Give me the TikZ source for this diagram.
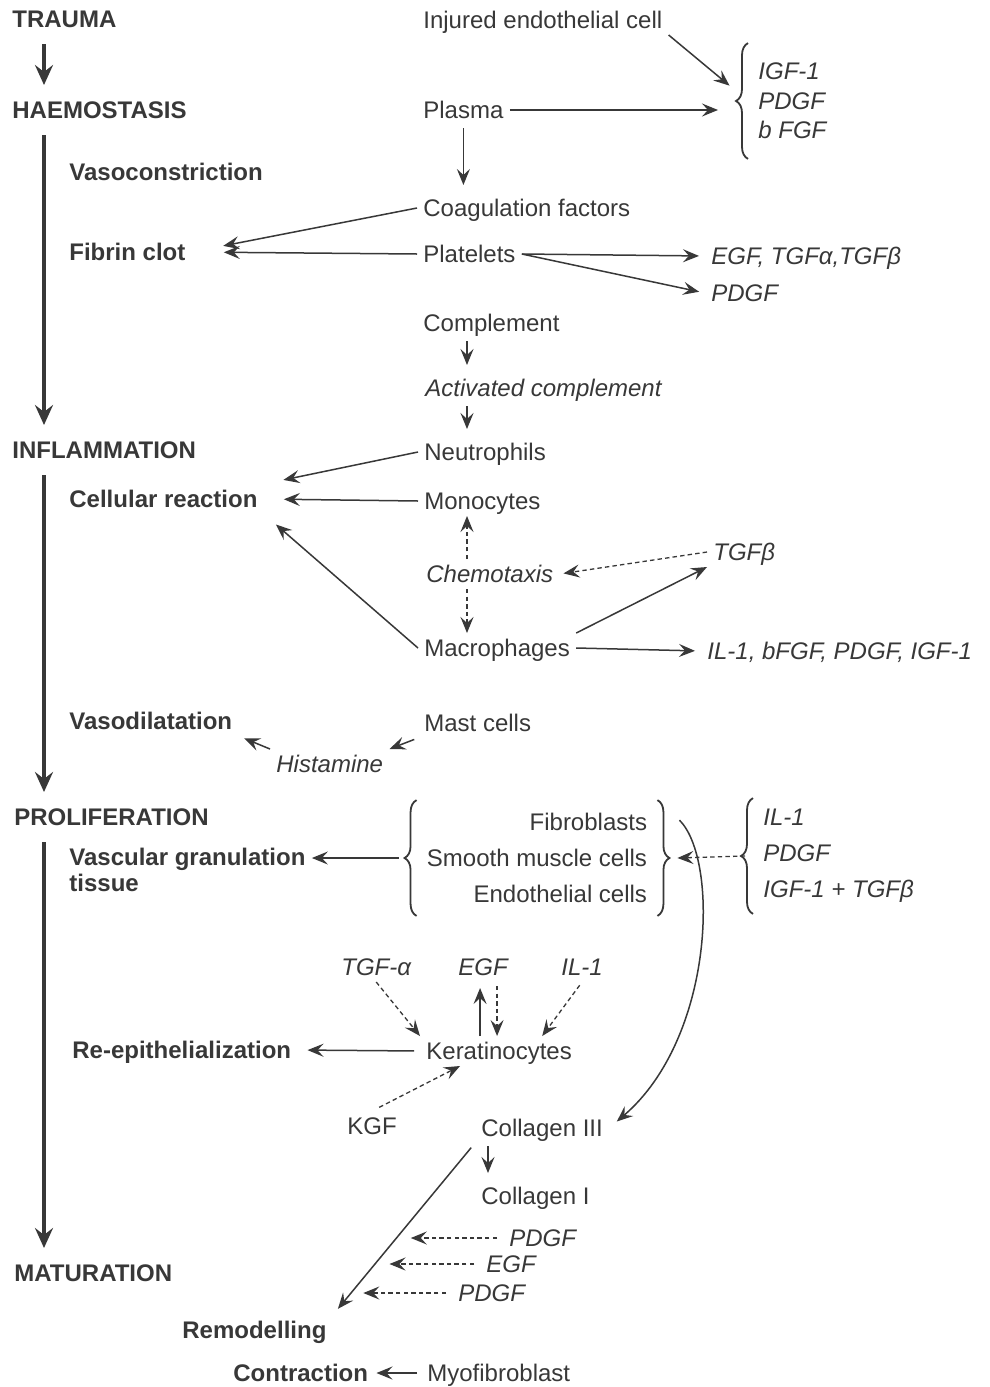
\documentclass[tikz,border=0pt]{standalone}
\usepackage{fontspec}
\setmainfont{Liberation Sans}
\usepackage{tikz}
\usetikzlibrary{arrows.meta, positioning, calc, decorations.pathreplacing}
\definecolor{ink}{gray}{0.22}

\begin{document}
\begin{tikzpicture}[x=0.5pt, y=-0.5pt, >={Stealth[length=8pt,width=6.5pt,inset=3pt]},
  every node/.style={text=ink, inner sep=3pt, font=\fontsize{12}{15}\selectfont},
  txt/.style={anchor=west, text height=8.6pt, text depth=0pt},
  stage/.style={txt, font=\fontsize{12}{15}\selectfont\bfseries},
  fac/.style={txt, font=\fontsize{12}{15}\selectfont\itshape},
  grp/.style={inner xsep=5pt, minimum height=57.5pt, font=\fontsize{12}{18}\selectfont},
  flow/.style={draw=ink, line width=0.75pt, ->},
  down/.style={flow, shorten <=1.5pt, shorten >=4pt},
  hint/.style={flow, line width=0.65pt, dash pattern=on 2.2pt off 1.6pt},
  phase/.style={draw=ink, line width=1.7pt, shorten <=5pt, shorten >=5pt,
    -{Stealth[length=10pt,width=9pt,inset=3.5pt]}},
  brc/.style={draw=ink, line width=0.9pt, decorate, decoration={brace, amplitude=6pt}}]
  \fill[white] (0,0) rectangle (990,1387);
  \useasboundingbox (0,0) rectangle (990,1387);
  \coordinate (spine) at (44,0);
  \coordinate (mid) at (467,0);

  % stages down the left
  \node[stage] (trauma) at (6,19) {TRAUMA};
  \node[stage] (haemo) at (6,110) {HAEMOSTASIS};
  \node[stage] (inflam) at (6,450) {INFLAMMATION};
  \node[stage] (prolif) at (8,817) {PROLIFERATION};
  \node[stage] (matur) at (8,1273) {MATURATION};
  \draw[phase] (spine |- trauma.south) -- (spine |- haemo.north);
  \draw[phase] (spine |- haemo.south) -- (spine |- inflam.north);
  \draw[phase] (spine |- inflam.south) -- (spine |- prolif.north);
  \draw[phase] (spine |- prolif.south) -- (spine |- matur.north);

  % outcomes
  \node[stage] (vasoc) at (63,172) {Vasoconstriction};
  \node[stage] (fibrin) at (63,252) {Fibrin clot};
  \node[stage] (cellr) at (63,499) {Cellular reaction};
  \node[stage] (vasod) at (63,721) {Vasodilatation};
  \node[anchor=north west, align=left, font=\fontsize{12}{13}\selectfont\bfseries]
    (vgt) at (63,842) {Vascular granulation\\tissue};
  \node[stage] (reepi) at (66,1050) {Re-epithelialization};
  \node[stage] (remod) at (176,1330) {Remodelling};
  \node[stage] (contr) at (227,1373) {Contraction};

  % haemostasis
  \node[txt] (injured) at (417,20) {Injured endothelial cell};
  \node[txt] (plasma) at (417,110) {Plasma};
  \node[txt] (coag) at (417,208) {Coagulation factors};
  \node[txt] (plate) at (417,254) {Platelets};
  \node[grp, anchor=west, align=left, font=\fontsize{12}{14.75}\selectfont\itshape]
    (grow) at (748,101) {IGF-1\\PDGF\\b FGF};
  \draw[brc] (grow.south west) -- (grow.north west);
  \node[fac] (tgfs) at (705,256) {EGF, TGFα,TGFβ};
  \node[fac] (pdgfp) at (705,293) {PDGF};
  \draw[flow, shorten >=12pt] (injured.south east) -- (grow.west);
  \draw[flow, shorten >=15pt] (plasma.east) -- (plasma.east -| grow.west);
  \draw[down] (plasma.south) -- (plasma.south |- coag.north);
  \draw[flow, shorten >=16pt] (coag.west) -- (fibrin.east);
  \draw[flow, shorten >=16pt] (plate.west) -- (fibrin.east);
  \draw[flow, shorten >=3pt] (plate.east) -- (tgfs.west);
  \draw[flow, shorten >=3pt] (plate.east) -- (pdgfp.west);

  % inflammation
  \node[txt] (compl) at (417,323) {Complement};
  \node[fac] (actc) at (419,388) {Activated complement};
  \node[txt] (neut) at (418,452) {Neutrophils};
  \node[txt] (mono) at (418,501) {Monocytes};
  \node[fac] (chemo) at (420,574) {Chemotaxis};
  \node[txt] (macro) at (418,648) {Macrophages};
  \node[fac] (tgfb) at (707,552) {TGFβ};
  \node[fac] (ilmix) at (701,651) {IL-1, bFGF, PDGF, IGF-1};
  \node[txt] (mast) at (418,723) {Mast cells};
  \node[fac] (hist) at (270,764) {Histamine};
  \draw[down] (compl.south -| mid) -- (actc.north -| mid);
  \draw[down] (actc.south -| mid) -- (neut.north -| mid);
  \draw[flow, shorten >=10pt] (neut.west) -- (cellr.north east);
  \draw[flow, shorten >=10pt] (mono.west) -- (cellr.east);
  \draw[flow, shorten >=8pt] (macro.west) -- (cellr.south east);
  \draw[hint] (chemo.north -| mid) -- (mono.south -| mid);
  \draw[hint] (chemo.south -| mid) -- (macro.north -| mid);
  \draw[hint, shorten >=2pt] (tgfb.west) -- (chemo.east);
  \draw[flow] (macro.north east) -- (tgfb.south west);
  \draw[flow, shorten >=3pt] (macro.east) -- (ilmix.west);
  \draw[flow, shorten <=2pt] (mast.south west) -- (hist.north east);
  \draw[flow, shorten >=3pt] (hist.north west) -- (vasod.south east);

  % proliferation
  \node[grp, align=right] (cells) at (537,858)
    {Fibroblasts\\Smooth muscle cells\\Endothelial cells};
  \draw[brc] (cells.south west) -- (cells.north west);
  \draw[brc] (cells.north east) -- (cells.south east);
  \node[grp, anchor=west, align=left, font=\fontsize{12}{18}\selectfont\itshape]
    (gfs) at (753,856) {IL-1\\PDGF\\IGF-1 + TGFβ};
  \draw[brc] (gfs.south west) -- (gfs.north west);
  \draw[flow] ([xshift=-9pt]cells.west) -- (cells.west -| vgt.east);
  \draw[hint] ([xshift=-4pt]gfs.west) -- ([xshift=10pt]cells.east);

  \node[txt] (kera) at (420,1051) {Keratinocytes};
  \node[fac] (tgfa) at (335,967) {TGF-α};
  \node[fac] (egfk) at (452,967) {EGF};
  \node[fac] (ilk) at (555,967) {IL-1};
  \node[txt] (kgf) at (341,1126) {KGF};
  \draw[flow, shorten <=3pt, shorten >=5pt] (kera.west) -- (reepi.east);
  \draw[hint] (tgfa.south) -- (kera.north west);
  \draw[flow, shorten >=3pt] ([xshift=-1.5pt]egfk.south |- kera.north) -- ([xshift=-1.5pt]egfk.south);
  \draw[hint, shorten <=2pt] ([xshift=7pt]egfk.south) -- ([xshift=7pt]egfk.south |- kera.north);
  \draw[hint, shorten <=2pt] (ilk.south) -- ([xshift=-18pt]kera.north east);
  \draw[hint, shorten <=4pt] (kgf.north) -- ([xshift=20pt]kera.south west);

  % maturation
  \node[txt] (col3) at (475,1128) {Collagen III};
  \node[txt] (col1) at (475,1196) {Collagen I};
  \node[fac] (pd1) at (503,1238) {PDGF};
  \node[fac] (egfm) at (480,1264) {EGF};
  \node[fac] (pd2) at (452,1293) {PDGF};
  \node[txt] (myo) at (421,1373) {Myofibroblast};
  \draw[flow, shorten >=5pt] ([xshift=11pt,yshift=-10pt]cells.north east)
    .. controls +(40,40) and +(105,-90) .. (col3.east);
  \draw[down] ([xshift=6.5pt]col3.south west) -- ([xshift=6.5pt]col3.south west |- col1.north);
  \draw[flow, shorten <=3pt, shorten >=4pt] (col3.south west) -- (remod.north east)
    coordinate[pos=.55] (m1) coordinate[pos=.70] (m2) coordinate[pos=.87] (m3);
  \draw[hint, shorten <=3pt, shorten >=7pt] (pd1.west) -- (pd1.west -| m1);
  \draw[hint, shorten <=3pt, shorten >=7pt] (egfm.west) -- (egfm.west -| m2);
  \draw[hint, shorten <=3pt, shorten >=6pt] (pd2.west) -- (pd2.west -| m3);
  \draw[flow, shorten <=2pt, shorten >=1pt] (myo.west) -- (contr.east);
\end{tikzpicture}
\end{document}
